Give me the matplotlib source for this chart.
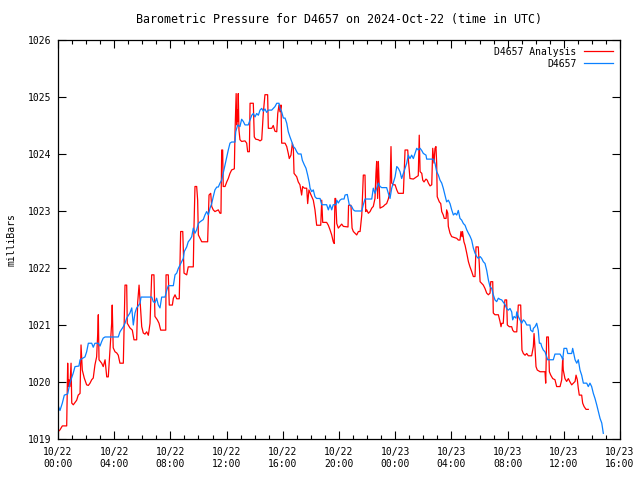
import datetime as dt
import matplotlib
matplotlib.use("Agg")
import matplotlib.pyplot as plt
import matplotlib.dates as mdates

# hours after 2024-10-22 00:00 UTC, pressure in mbar
analysis_hours = [
    0.02, 0.14, 0.31, 0.62, 0.69, 0.73, 0.78, 0.85, 0.93, 0.98, 1.09, 1.33, 1.44, 1.57, 1.64, 1.73,
    1.87, 2.04, 2.16, 2.28, 2.40, 2.51, 2.63, 2.75, 2.83, 2.87, 2.92, 3.11, 3.22, 3.35, 3.47, 3.58,
    3.70, 3.82, 3.86, 3.93, 4.06, 4.18, 4.29, 4.41, 4.65, 4.72, 4.77, 4.89, 4.93, 5.12, 5.29, 5.41,
    5.60, 5.67, 5.77, 5.87, 5.96, 6.07, 6.19, 6.31, 6.43, 6.55, 6.67, 6.83, 6.90, 7.07, 7.19, 7.31,
    7.67, 7.69, 7.85, 7.92, 8.14, 8.21, 8.33, 8.45, 8.63, 8.73, 8.88, 8.92, 8.97, 9.16, 9.27, 9.63,
    9.68, 9.75, 9.87, 9.94, 9.99, 10.11, 10.23, 10.65, 10.70, 10.75, 10.87, 10.94, 11.05, 11.17, 11.41, 11.53,
    11.60, 11.65, 11.72, 11.76, 11.89, 12.01, 12.12, 12.24, 12.36, 12.55, 12.60, 12.68, 12.72, 12.76, 12.79, 12.83,
    12.88, 12.95, 13.07, 13.31, 13.43, 13.50, 13.62, 13.67, 13.90, 13.97, 14.07, 14.26, 14.38, 14.50, 14.61, 14.73,
    14.92, 14.97, 15.21, 15.32, 15.44, 15.57, 15.64, 15.73, 15.80, 15.87, 15.92, 16.16, 16.28, 16.39, 16.46, 16.58,
    16.68, 16.75, 16.80, 16.99, 17.10, 17.22, 17.34, 17.41, 17.53, 17.70, 17.77, 17.86, 18.01, 18.17, 18.29, 18.41,
    18.70, 18.77, 18.84, 19.12, 19.24, 19.36, 19.48, 19.59, 19.66, 19.71, 19.76, 19.84, 19.95, 20.19, 20.31, 20.64,
    20.68, 20.85, 20.93, 21.02, 21.14, 21.26, 21.38, 21.50, 21.62, 21.73, 21.85, 21.90, 21.97, 22.09, 22.21, 22.33,
    22.44, 22.56, 22.63, 22.68, 22.75, 22.80, 22.87, 22.92, 23.15, 23.27, 23.39, 23.51, 23.63, 23.70, 23.75, 23.86,
    23.99, 24.11, 24.22, 24.58, 24.70, 24.89, 24.93, 25.05, 25.29, 25.41, 25.53, 25.64, 25.71, 25.77, 25.89, 25.96,
    26.05, 26.19, 26.28, 26.36, 26.48, 26.60, 26.67, 26.76, 26.83, 26.90, 26.95, 26.99, 27.14, 27.24, 27.31, 27.42,
    27.49, 27.62, 27.66, 27.74, 27.78, 27.90, 28.02, 28.38, 28.49, 28.61, 28.68, 28.75, 28.79, 28.89, 28.97, 29.04,
    29.09, 29.21, 29.32, 29.44, 29.56, 29.68, 29.75, 29.91, 29.98, 30.04, 30.15, 30.27, 30.39, 30.51, 30.63, 30.75,
    30.80, 30.94, 30.98, 31.10, 31.34, 31.46, 31.53, 31.58, 31.69, 31.74, 31.81, 31.93, 31.98, 32.12, 32.29, 32.36,
    32.46, 32.65, 32.76, 32.93, 32.97, 33.02, 33.12, 33.24, 33.36, 33.47, 33.71, 33.83, 33.88, 33.95, 34.02, 34.11,
    34.31, 34.66, 34.71, 34.78, 34.90, 34.97, 35.07, 35.21, 35.37, 35.49, 35.73, 35.85, 35.92, 35.96, 36.08, 36.20,
    36.32, 36.44, 36.56, 36.68, 36.80, 36.87, 36.96, 37.03, 37.10, 37.27, 37.34, 37.44, 37.58, 37.74,
]
analysis_mbar = [
    1019.13, 1019.16, 1019.23, 1019.23, 1020.33, 1019.92, 1020.04, 1019.92, 1020.33, 1019.63, 1019.60, 1019.68, 1019.77, 1019.80, 1020.65, 1020.21,
    1020.07, 1019.95, 1019.94, 1019.98, 1020.04, 1020.07, 1020.30, 1020.44, 1020.86, 1021.18, 1020.39, 1020.33, 1020.27, 1020.39, 1020.09, 1020.09,
    1020.56, 1021.03, 1021.35, 1020.60, 1020.53, 1020.51, 1020.47, 1020.33, 1020.33, 1021.09, 1021.70, 1021.70, 1021.03, 1020.95, 1020.91, 1020.74,
    1020.74, 1021.39, 1021.70, 1021.30, 1020.97, 1020.86, 1020.84, 1020.88, 1020.82, 1021.03, 1021.88, 1021.88, 1021.15, 1021.09, 1021.03, 1020.91,
    1020.91, 1021.88, 1021.88, 1021.35, 1021.35, 1021.47, 1021.53, 1021.46, 1021.46, 1022.64, 1022.64, 1022.32, 1021.91, 1021.88, 1022.02, 1022.02,
    1022.73, 1023.43, 1023.43, 1023.19, 1022.58, 1022.52, 1022.46, 1022.46, 1022.87, 1023.28, 1023.31, 1023.08, 1023.02, 1022.99, 1023.02, 1022.96,
    1022.96, 1024.07, 1024.07, 1023.43, 1023.43, 1023.51, 1023.57, 1023.66, 1023.72, 1023.74, 1024.39, 1025.06, 1024.51, 1024.77, 1024.57, 1025.06,
    1024.42, 1024.25, 1024.22, 1024.23, 1024.19, 1024.04, 1024.04, 1024.89, 1024.89, 1024.30, 1024.26, 1024.25, 1024.23, 1024.25, 1024.71, 1025.04,
    1025.04, 1024.45, 1024.45, 1024.50, 1024.40, 1024.39, 1024.71, 1024.86, 1024.74, 1024.86, 1024.19, 1024.19, 1024.13, 1024.01, 1023.92, 1023.98,
    1024.19, 1024.10, 1023.66, 1023.60, 1023.51, 1023.46, 1023.28, 1023.43, 1023.40, 1023.40, 1023.13, 1023.37, 1023.28, 1023.19, 1023.02, 1022.75,
    1022.75, 1023.19, 1022.80, 1022.80, 1022.75, 1022.67, 1022.58, 1022.46, 1022.43, 1023.22, 1023.22, 1022.78, 1022.70, 1022.77, 1022.73, 1022.72,
    1023.10, 1023.10, 1022.70, 1022.64, 1022.61, 1022.58, 1022.64, 1022.64, 1022.93, 1023.63, 1023.63, 1022.99, 1023.02, 1022.96, 1022.99, 1023.05,
    1023.08, 1023.22, 1023.66, 1023.87, 1023.22, 1023.87, 1023.40, 1023.05, 1023.08, 1023.11, 1023.13, 1023.21, 1023.34, 1024.13, 1023.49, 1023.46,
    1023.46, 1023.37, 1023.31, 1023.31, 1024.07, 1024.07, 1023.92, 1023.57, 1023.56, 1023.58, 1023.60, 1023.62, 1024.33, 1023.69, 1023.66, 1023.54,
    1023.51, 1023.56, 1023.54, 1023.49, 1023.44, 1023.46, 1024.10, 1023.84, 1024.10, 1024.13, 1023.84, 1023.25, 1023.16, 1023.13, 1022.99, 1022.93,
    1022.87, 1022.87, 1023.02, 1022.96, 1022.73, 1022.61, 1022.55, 1022.52, 1022.49, 1022.49, 1022.64, 1022.55, 1022.64, 1022.46, 1022.40, 1022.32,
    1022.26, 1022.11, 1022.02, 1021.94, 1021.85, 1021.85, 1022.37, 1022.37, 1022.08, 1021.76, 1021.73, 1021.70, 1021.64, 1021.56, 1021.53, 1021.56,
    1021.76, 1021.76, 1021.21, 1021.18, 1021.18, 1021.06, 1020.97, 1021.03, 1021.03, 1021.26, 1021.44, 1021.44, 1021.00, 1020.97, 1020.97, 1020.91,
    1020.88, 1020.88, 1021.35, 1021.35, 1021.00, 1020.56, 1020.50, 1020.47, 1020.50, 1020.46, 1020.46, 1020.62, 1020.85, 1020.59, 1020.27, 1020.21,
    1020.18, 1020.18, 1019.98, 1020.79, 1020.79, 1020.18, 1020.12, 1020.06, 1020.04, 1019.92, 1019.92, 1020.04, 1020.42, 1020.21, 1020.06, 1020.01,
    1020.06, 1020.00, 1019.95, 1019.98, 1020.01, 1020.12, 1020.04, 1019.89, 1019.77, 1019.77, 1019.63, 1019.57, 1019.52, 1019.52,
]

station_hours = [
    0.02, 0.14, 0.31, 0.45, 0.69, 0.85, 1.09, 1.21, 1.49, 1.57, 1.92, 2.04, 2.16, 2.40, 2.51, 2.63,
    2.87, 2.99, 3.11, 3.22, 3.35, 4.29, 4.41, 4.65, 4.77, 4.89, 5.12, 5.25, 5.36, 5.48, 5.60, 5.84,
    5.91, 6.67, 6.78, 6.90, 7.02, 7.14, 7.26, 7.38, 7.62, 7.74, 7.85, 8.21, 8.33, 8.45, 8.56, 8.68,
    8.80, 8.92, 8.99, 9.16, 9.27, 9.40, 9.52, 9.63, 9.75, 9.87, 9.99, 10.11, 10.34, 10.46, 10.58, 10.70,
    10.82, 10.94, 11.05, 11.17, 11.30, 11.41, 11.53, 11.65, 11.89, 12.01, 12.12, 12.24, 12.36, 12.60, 12.65, 12.79,
    12.95, 13.07, 13.19, 13.31, 13.54, 13.67, 13.79, 13.90, 14.02, 14.14, 14.26, 14.38, 14.50, 14.61, 14.73, 14.85,
    14.97, 15.21, 15.32, 15.44, 15.57, 15.73, 15.80, 15.92, 16.04, 16.16, 16.28, 16.39, 16.51, 16.63, 16.75, 16.87,
    16.99, 17.10, 17.30, 17.39, 17.53, 17.65, 17.77, 17.89, 17.94, 18.06, 18.17, 18.29, 18.41, 18.65, 18.77, 19.12,
    19.24, 19.36, 19.48, 19.59, 19.79, 19.84, 19.95, 20.07, 20.19, 20.36, 20.43, 20.59, 20.73, 20.90, 21.02, 21.14,
    21.62, 21.73, 21.85, 22.33, 22.44, 22.56, 22.68, 22.80, 22.92, 23.04, 23.39, 23.51, 23.63, 23.75, 23.86, 23.99,
    24.11, 24.22, 24.34, 24.46, 24.58, 24.70, 24.82, 24.93, 25.05, 25.17, 25.29, 25.41, 25.53, 25.64, 25.77, 25.89,
    26.00, 26.19, 26.24, 26.71, 26.83, 26.90, 26.95, 27.07, 27.19, 27.31, 27.42, 27.54, 27.66, 27.78, 27.90, 28.02,
    28.14, 28.26, 28.38, 28.49, 28.61, 28.73, 28.85, 28.97, 29.09, 29.21, 29.32, 29.44, 29.56, 29.68, 29.80, 29.91,
    30.04, 30.15, 30.27, 30.39, 30.51, 30.63, 30.75, 30.87, 30.98, 31.10, 31.22, 31.34, 31.46, 31.58, 31.69, 31.81,
    31.93, 32.05, 32.17, 32.29, 32.36, 32.46, 32.60, 32.65, 32.76, 32.88, 33.00, 33.12, 33.24, 33.36, 33.59, 33.64,
    33.79, 33.83, 33.95, 34.07, 34.18, 34.26, 34.36, 34.43, 34.54, 34.66, 34.78, 34.85, 35.25, 35.37, 35.73, 35.85,
    35.92, 36.01, 36.20, 36.28, 36.56, 36.63, 36.80, 36.92, 37.03, 37.15, 37.27, 37.39, 37.63, 37.74, 37.86, 37.98,
    38.10, 38.22, 38.34, 38.46, 38.58, 38.70, 38.81,
]
station_mbar = [
    1019.58, 1019.50, 1019.63, 1019.77, 1019.79, 1019.98, 1020.16, 1020.27, 1020.28, 1020.39, 1020.44, 1020.53, 1020.68, 1020.68, 1020.61, 1020.68,
    1020.68, 1020.63, 1020.71, 1020.77, 1020.79, 1020.79, 1020.88, 1020.97, 1021.03, 1021.12, 1021.21, 1021.30, 1021.00, 1021.21, 1021.30, 1021.38,
    1021.49, 1021.49, 1021.41, 1021.39, 1021.47, 1021.35, 1021.30, 1021.49, 1021.49, 1021.61, 1021.69, 1021.69, 1021.88, 1021.91, 1021.99, 1022.05,
    1022.11, 1022.17, 1022.29, 1022.37, 1022.46, 1022.50, 1022.55, 1022.70, 1022.61, 1022.67, 1022.78, 1022.81, 1022.85, 1022.93, 1022.99, 1022.93,
    1023.05, 1023.13, 1023.25, 1023.37, 1023.42, 1023.42, 1023.49, 1023.54, 1023.81, 1023.95, 1024.07, 1024.19, 1024.21, 1024.21, 1024.39, 1024.51,
    1024.48, 1024.61, 1024.57, 1024.51, 1024.51, 1024.60, 1024.68, 1024.71, 1024.65, 1024.71, 1024.68, 1024.77, 1024.80, 1024.75, 1024.79, 1024.73,
    1024.77, 1024.77, 1024.80, 1024.83, 1024.89, 1024.89, 1024.80, 1024.74, 1024.63, 1024.63, 1024.54, 1024.39, 1024.30, 1024.22, 1024.13, 1024.10,
    1024.04, 1024.00, 1024.00, 1023.89, 1023.81, 1023.75, 1023.63, 1023.49, 1023.40, 1023.34, 1023.37, 1023.25, 1023.22, 1023.22, 1023.11, 1023.11,
    1023.02, 1023.11, 1023.02, 1023.11, 1023.11, 1023.19, 1023.14, 1023.19, 1023.21, 1023.21, 1023.28, 1023.29, 1023.11, 1023.08, 1023.02, 1023.00,
    1023.00, 1023.11, 1023.21, 1023.21, 1023.40, 1023.31, 1023.40, 1023.49, 1023.43, 1023.41, 1023.41, 1023.31, 1023.22, 1023.40, 1023.49, 1023.60,
    1023.78, 1023.75, 1023.69, 1023.57, 1023.66, 1023.75, 1023.84, 1023.98, 1023.92, 1023.98, 1023.92, 1024.01, 1024.10, 1024.07, 1024.10, 1024.06,
    1024.01, 1023.98, 1023.91, 1023.91, 1023.84, 1023.75, 1023.69, 1023.63, 1023.54, 1023.49, 1023.40, 1023.28, 1023.16, 1023.19, 1023.13, 1023.02,
    1022.93, 1022.96, 1022.93, 1023.01, 1022.87, 1022.84, 1022.78, 1022.75, 1022.67, 1022.61, 1022.56, 1022.49, 1022.35, 1022.26, 1022.20, 1022.17,
    1022.20, 1022.17, 1022.11, 1022.08, 1021.96, 1021.79, 1021.67, 1021.64, 1021.53, 1021.44, 1021.41, 1021.47, 1021.45, 1021.44, 1021.40, 1021.36,
    1021.29, 1021.26, 1021.29, 1021.23, 1021.09, 1021.15, 1021.12, 1021.23, 1021.15, 1021.09, 1021.03, 1021.09, 1021.06, 1021.00, 1021.00, 1020.91,
    1020.88, 1020.94, 1020.97, 1021.03, 1020.91, 1020.68, 1020.68, 1020.62, 1020.56, 1020.53, 1020.44, 1020.39, 1020.39, 1020.49, 1020.49, 1020.44,
    1020.39, 1020.59, 1020.59, 1020.50, 1020.50, 1020.59, 1020.39, 1020.33, 1020.39, 1020.21, 1020.12, 1019.98, 1019.98, 1019.92, 1019.98, 1019.92,
    1019.80, 1019.71, 1019.60, 1019.48, 1019.36, 1019.28, 1019.10,
]

start = dt.datetime(2024, 10, 22, 0, 0)
analysis_time = [start + dt.timedelta(hours=h) for h in analysis_hours]
station_time = [start + dt.timedelta(hours=h) for h in station_hours]

plt.rcParams["font.family"] = ["DejaVu Sans Mono"]
plt.rcParams["font.size"] = 7.0

fig = plt.figure(figsize=(6.4, 4.8), dpi=100)
ax = fig.add_axes([0.0906, 0.0854, 0.8782, 0.8313])

ax.plot(analysis_time, analysis_mbar, color="#ff0000", lw=0.9, label="D4657 Analysis")
ax.plot(station_time, station_mbar, color="#0a80ff", lw=0.9, label="D4657")

ax.set_xlim(start, start + dt.timedelta(hours=40))
ax.set_ylim(1019, 1026)
ax.set_yticks(range(1019, 1027))
ax.xaxis.set_major_locator(mdates.HourLocator(byhour=range(0, 24, 4)))
ax.xaxis.set_minor_locator(mdates.HourLocator())
ax.xaxis.set_major_formatter(mdates.DateFormatter("%m/%d\n%H:%M"))

ax.tick_params(which="both", direction="in", top=True, right=True, width=0.8)
ax.tick_params(which="major", length=6, pad=6)
ax.tick_params(which="minor", length=3)
ax.tick_params(axis="y", which="major", pad=5)
for s in ax.spines.values():
    s.set_linewidth(0.9)

ax.set_title("Barometric Pressure for D4657 on 2024-Oct-22 (time in UTC)", pad=12)
ax.set_ylabel("milliBars", labelpad=8)

ax.legend(loc="upper right", frameon=False, markerfirst=False, handlelength=3.0,
          handletextpad=0.8, borderaxespad=0.3, labelspacing=0.2)

fig.savefig("out.png", dpi=100)
